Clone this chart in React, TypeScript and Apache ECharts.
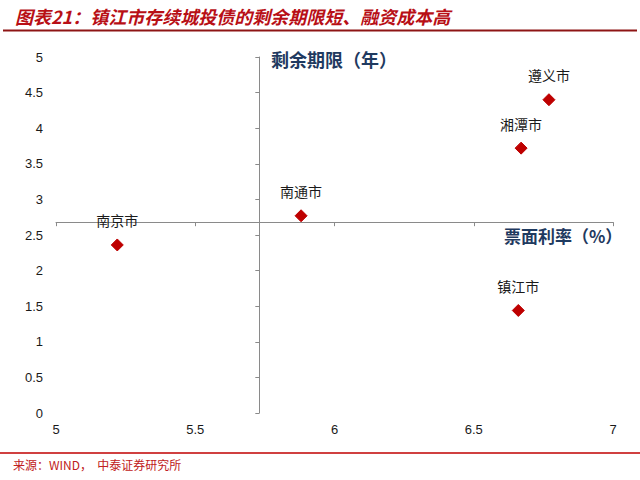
import React, { useEffect, useRef } from "react";
import * as echarts from "echarts";

const cities = ["南京市", "南通市", "湘潭市", "遵义市", "镇江市"];
const couponRate = [5.22, 5.88, 6.67, 6.77, 6.66];
const remainingTerm = [2.36, 2.77, 3.72, 4.4, 1.44];

const xMin = 5;
const xMax = 7;
const xInterval = 0.5;
const yMin = 0;
const yMax = 5;
const yInterval = 0.5;
const xCross = 5.73;
const yCross = 2.68;

const titleText = "图表21：镇江市存续城投债的剩余期限短、融资成本高";
const sourceText = "来源：WIND，  中泰证券研究所";
const yAxisTitle = "剩余期限（年）";
const xAxisTitle = "票面利率（%）";

const W = 640;
const H = 480;
const GRID = { left: 56, right: 27, top: 57, bottom: 67 };

export default function App() {
  const ref = useRef<HTMLDivElement>(null);
  useEffect(() => {
    if (!ref.current) return;
    const chart = echarts.init(ref.current, null, { renderer: "svg" });
    const gridW = W - GRID.left - GRID.right;
    const gridH = H - GRID.top - GRID.bottom;
    const xOffset = -((yCross - yMin) / (yMax - yMin)) * gridH;
    const yOffset = -((xCross - xMin) / (xMax - xMin)) * gridW;
    const axisGray = "#8a8a8a";
    const labelStyle = {
      color: "#1a1a1a",
      fontSize: 13,
      fontFamily: "Liberation Sans, Arial, sans-serif",
    };
    chart.setOption({
      animation: false,
      backgroundColor: "#fff",
      grid: { ...GRID },
      xAxis: [
        {
          type: "value",
          min: xMin,
          max: xMax,
          interval: xInterval,
          position: "bottom",
          axisLine: { show: false },
          axisTick: { show: false },
          splitLine: { show: false },
          axisLabel: { ...labelStyle, margin: 10 },
        },
        {
          type: "value",
          min: xMin,
          max: xMax,
          interval: xInterval,
          position: "bottom",
          offset: xOffset,
          axisLine: { show: true, onZero: false, lineStyle: { color: axisGray, width: 1 } },
          axisTick: { show: true, inside: false, length: 4, lineStyle: { color: axisGray } },
          splitLine: { show: false },
          axisLabel: { show: false },
        },
      ],
      yAxis: [
        {
          type: "value",
          min: yMin,
          max: yMax,
          interval: yInterval,
          position: "left",
          axisLine: { show: false },
          axisTick: { show: false },
          splitLine: { show: false },
          axisLabel: { ...labelStyle, margin: 13 },
        },
        {
          type: "value",
          min: yMin,
          max: yMax,
          interval: yInterval,
          position: "left",
          offset: yOffset,
          axisLine: { show: true, onZero: false, lineStyle: { color: axisGray, width: 1 } },
          axisTick: { show: true, inside: false, length: 4, lineStyle: { color: axisGray } },
          splitLine: { show: false },
          axisLabel: { show: false },
        },
      ],
      series: [
        {
          type: "scatter",
          xAxisIndex: 0,
          yAxisIndex: 0,
          symbol: "diamond",
          symbolSize: 12,
          itemStyle: {
            color: "#BE0000",
            borderColor: "#BE0000",
            borderWidth: 1,
            borderJoin: "round",
            opacity: 1,
          },
          data: cities.map((c, i) => ({ name: c, value: [couponRate[i], remainingTerm[i]] })),
          label: {
            show: true,
            position: "top",
            distance: 11,
            formatter: (p: any) => p.name,
            color: "#1a1a1a",
            fontSize: 14,
            fontFamily: "Noto Sans CJK SC, sans-serif",
          },
        },
      ],
      graphic: [
        {
          type: "text",
          left: 15,
          top: 7,
          style: {
            text: titleText,
            fill: "#B80F16",
            fontSize: 18,
            fontWeight: "bold",
            fontStyle: "italic",
            fontFamily: "Noto Sans CJK SC, sans-serif",
          },
        },
        {
          type: "line",
          shape: { x1: 3, y1: 30.5, x2: 637, y2: 30.5 },
          style: { stroke: "#8E1515", lineWidth: 2 },
        },
        {
          type: "text",
          left: 271,
          top: 50,
          style: {
            text: yAxisTitle,
            fill: "#1F3A60",
            fontSize: 18,
            fontWeight: "bold",
            fontFamily: "Noto Sans CJK SC, sans-serif",
          },
        },
        {
          type: "text",
          left: 504,
          top: 227,
          style: {
            text: xAxisTitle,
            fill: "#1F3A60",
            fontSize: 17,
            fontWeight: "bold",
            fontFamily: "Noto Sans CJK SC, sans-serif",
          },
        },
        {
          type: "line",
          shape: { x1: 0, y1: 453, x2: 640, y2: 453 },
          style: { stroke: "#C00000", lineWidth: 1.5 },
        },
        {
          type: "text",
          left: 13,
          top: 458,
          style: {
            text: sourceText,
            fill: "#C02020",
            fontSize: 12,
            fontFamily: "Noto Sans CJK SC, sans-serif",
          },
        },
      ],
    });
    return () => chart.dispose();
  }, []);
  return (
    <div
      ref={ref}
      style={{ position: "fixed", left: 0, top: 0, width: W, height: H }}
    />
  );
}
